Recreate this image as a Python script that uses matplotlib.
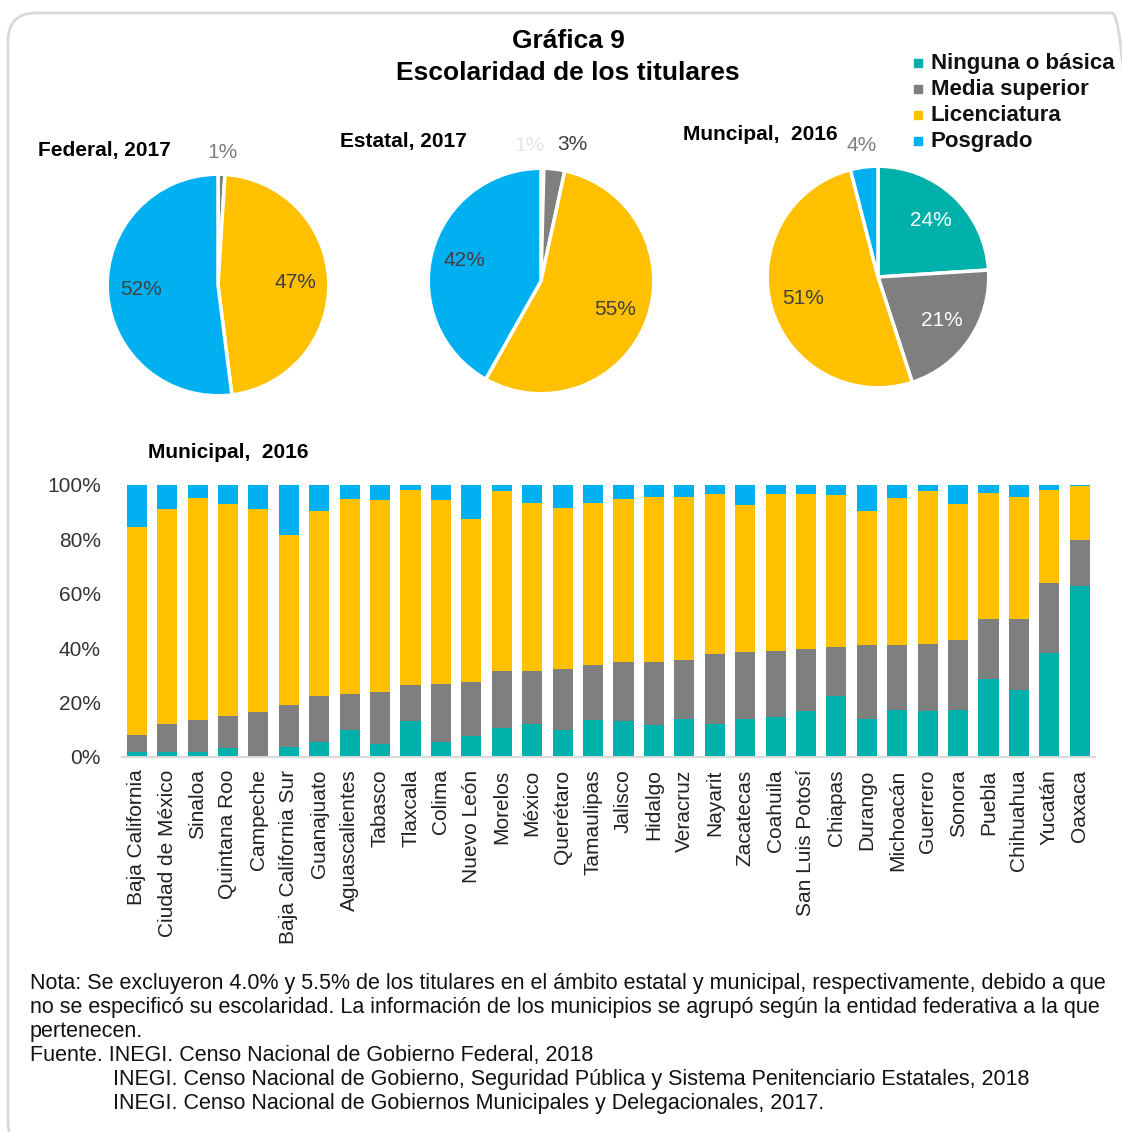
import numpy as np
import matplotlib
matplotlib.use('Agg')
import matplotlib.pyplot as plt
from matplotlib.patches import FancyBboxPatch
from matplotlib.lines import Line2D

plt.rcParams['font.family'] = ['Liberation Sans', 'DejaVu Sans']

# --- data ---
levels = ['Ninguna o básica', 'Media superior', 'Licenciatura', 'Posgrado']
colors = ['#00B0AA', '#7F7F7F', '#FFC000', '#00B0F0']

federal_vals = [0, 1, 47, 52]
federal_labels = ['', '1%', '47%', '52%']
estatal_vals = [0.4, 3, 55, 42]
estatal_labels = ['1%', '3%', '55%', '42%']
municipal_vals = [24, 21, 51, 4]
municipal_labels = ['24%', '21%', '51%', '4%']

states = ['Baja California', 'Ciudad de México', 'Sinaloa', 'Quintana Roo', 'Campeche',
          'Baja California Sur', 'Guanajuato', 'Aguascalientes', 'Tabasco', 'Tlaxcala',
          'Colima', 'Nuevo León', 'Morelos', 'México', 'Querétaro', 'Tamaulipas',
          'Jalisco', 'Hidalgo', 'Veracruz', 'Nayarit', 'Zacatecas', 'Coahuila',
          'San Luis Potosí', 'Chiapas', 'Durango', 'Michoacán', 'Guerrero', 'Sonora',
          'Puebla', 'Chihuahua', 'Yucatán', 'Oaxaca']
ninguna = [1.8, 1.8, 1.8, 3.4, 0.5, 3.7, 5.6, 10.1, 4.8, 13.3, 5.6, 7.9, 10.8, 12.3, 9.9, 13.7,
           13.3, 11.8, 14.1, 12.3, 14.1, 14.6, 16.9, 22.6, 14.1, 17.4, 16.9, 17.4, 28.7, 24.5, 38.2, 62.7]
media = [6.2, 10.5, 11.9, 11.7, 15.9, 15.6, 17.0, 13.0, 19.2, 13.1, 21.3, 19.5, 20.7, 19.2, 22.6, 20.2,
         21.5, 23.0, 21.7, 25.5, 24.6, 24.5, 22.7, 17.9, 26.9, 23.6, 24.6, 25.5, 22.2, 26.4, 25.8, 16.9]
licenciatura = [76.4, 78.7, 81.6, 77.9, 74.6, 62.3, 68.0, 71.7, 70.4, 71.8, 67.5, 60.0, 66.2, 61.9, 59.0, 59.5,
                60.0, 60.9, 59.9, 58.9, 53.8, 57.6, 57.1, 55.7, 49.6, 54.3, 56.2, 50.1, 46.3, 44.8, 34.2, 19.9]
posgrado = [15.6, 9.0, 4.7, 7.0, 9.0, 18.4, 9.4, 5.2, 5.6, 1.8, 5.6, 12.6, 2.3, 6.6, 8.5, 6.6,
            5.2, 4.3, 4.3, 3.3, 7.5, 3.3, 3.3, 3.8, 9.4, 4.7, 2.3, 7.0, 2.8, 4.3, 1.8, 0.5]

W, H = 1122, 1132
fig = plt.figure(figsize=(W / 100, H / 100), dpi=100)
fig.patch.set_facecolor('white')


def px_axes(x0, y0, x1, y1):
    return fig.add_axes([x0 / W, 1 - y1 / H, (x1 - x0) / W, (y1 - y0) / H])


def ftext(x, y, s, **kw):
    return fig.text(x / W, 1 - y / H, s, **kw)


# rounded frame
frame = FancyBboxPatch((8 / W, 1 - 1150 / H), (1140 - 8) / W, (1150 - 13) / H,
                       boxstyle='round,pad=0,rounding_size=0.025', transform=fig.transFigure,
                       fill=False, edgecolor='#d9d9d9', linewidth=2)
fig.add_artist(frame)

# title
ftext(568, 41, 'Gráfica 9', ha='center', va='center', fontsize=19, fontweight='bold')
ftext(568, 73, 'Escolaridad de los titulares', ha='center', va='center', fontsize=19, fontweight='bold')

# legend
for i, (name, c) in enumerate(zip(levels, colors)):
    y = 63 + 26 * i
    fig.add_artist(Line2D([918 / W], [1 - y / H], marker='s', markersize=6, color=c,
                          linestyle='none', transform=fig.transFigure))
    ftext(931, y, name, ha='left', va='center', fontsize=16, fontweight='bold', color='#111111')


def draw_pie(cx, cy, r, vals, labels, out_colors):
    ax = px_axes(cx - r, cy - r, cx + r, cy + r)
    wedges, _ = ax.pie(vals, colors=colors, startangle=90, counterclock=False,
                       wedgeprops=dict(edgecolor='white', linewidth=2.5))
    prev_out = None
    for i, (w, lab) in enumerate(zip(wedges, labels)):
        if not lab:
            continue
        ang = np.deg2rad((w.theta1 + w.theta2) / 2)
        frac = vals[i] / sum(vals)
        if frac < 0.05:
            rr = 1.2
            col = out_colors[i]
        else:
            rr = 0.7
            col = 'white' if i < 2 else '#404040'
        t = ax.text(rr * np.cos(ang), rr * np.sin(ang), lab, ha='center', va='center',
                    fontsize=15, color=col, clip_on=False)
        if frac < 0.05:
            # spread neighbouring outside labels apart
            if prev_out is not None:
                px, py = prev_out.get_position()
                prev_out.set_position((px - 0.12, py))
                x0, y0 = t.get_position()
                t.set_position((x0 + 0.14, y0 + 0.02))
            prev_out = t
    ax.set_xlim(-1.02, 1.02)
    ax.set_ylim(-1.02, 1.02)
    ax.set_aspect('equal')
    return ax


draw_pie(218, 285, 113, federal_vals, federal_labels, ['#7F7F7F'] * 4)
draw_pie(541, 281, 115, estatal_vals, estatal_labels, ['#e6e6e6', '#404040', '#404040', '#404040'])
draw_pie(878, 277, 113, municipal_vals, municipal_labels, ['#7F7F7F'] * 4)

ftext(38, 150, 'Federal, 2017', ha='left', va='center', fontsize=15, fontweight='bold')
ftext(340, 141, 'Estatal, 2017', ha='left', va='center', fontsize=15, fontweight='bold')
ftext(683, 134, 'Muncipal,  2016', ha='left', va='center', fontsize=15, fontweight='bold')

# stacked bars
ax = px_axes(121.5, 485, 1095, 757)
x = np.arange(len(states))
series = [ninguna, media, licenciatura, posgrado]
bottom = np.zeros(len(states))
for vals, c in zip(series, colors):
    v = np.array(vals) / 100
    ax.bar(x, v, width=0.66, bottom=bottom, color=c, linewidth=0)
    bottom += v

ax.set_xlim(-0.5, 31.5)
ax.set_ylim(0, 1)
ax.set_yticks(np.arange(0, 1.01, 0.2))
ax.set_yticklabels([f'{int(round(t * 100))}%' for t in np.arange(0, 1.01, 0.2)])
ax.set_xticks(x)
ax.set_xticklabels(states, rotation=90)
ax.tick_params(axis='y', length=0, pad=15, labelsize=15, labelcolor='#333333')
ax.tick_params(axis='x', length=0, pad=9, labelsize=15, labelcolor='#222222')
for s in ['top', 'right', 'left']:
    ax.spines[s].set_visible(False)
ax.spines['bottom'].set_color('#d9d9d9')
ax.spines['bottom'].set_linewidth(1.5)

ftext(148, 453, 'Municipal,  2016', ha='left', va='center', fontsize=15, fontweight='bold')

# notes
notes = [
    (30, 983, 'Nota: Se excluyeron 4.0% y 5.5% de los titulares en el ámbito estatal y municipal, respectivamente, debido a que'),
    (30, 1007, 'no se especificó su escolaridad. La información de los municipios se agrupó según la entidad federativa a la que'),
    (30, 1031, 'pertenecen.'),
    (30, 1055, 'Fuente. INEGI. Censo Nacional de Gobierno Federal, 2018'),
    (113, 1080, 'INEGI. Censo Nacional de Gobierno, Seguridad Pública y Sistema Penitenciario Estatales, 2018'),
    (113, 1104, 'INEGI. Censo Nacional de Gobiernos Municipales y Delegacionales, 2017.'),
]
for nx, ny, s in notes:
    ftext(nx, ny, s, ha='left', va='center', fontsize=15.5, color='#111111')

fig.savefig('out.png', dpi=100, facecolor='white')
